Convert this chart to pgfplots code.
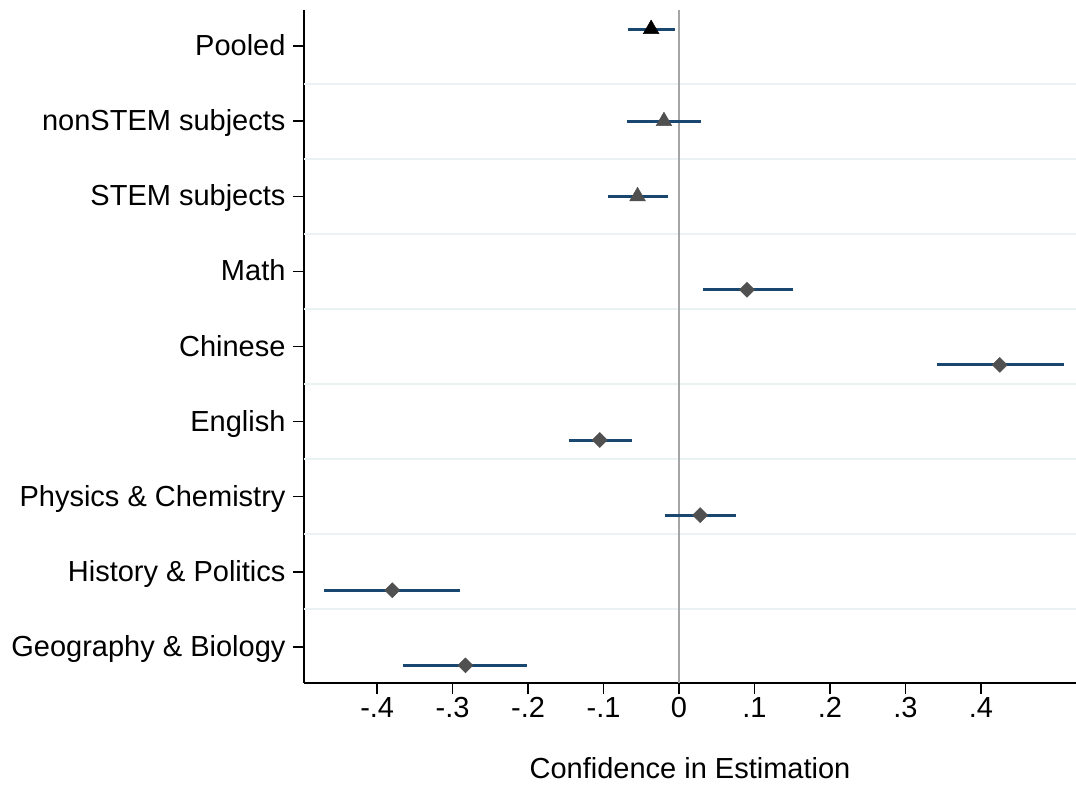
\documentclass[border=0pt]{standalone}
\usepackage{pgfplots}
\pgfplotsset{compat=1.18}
\usepackage{fontspec}
\setmainfont{Liberation Sans}
\definecolor{ciblue}{RGB}{26,71,111}
\definecolor{mkgray}{RGB}{80,80,80}
\definecolor{gridc}{RGB}{234,242,243}
\definecolor{zeroc}{RGB}{165,165,165}
\begin{document}
\begin{tikzpicture}
\path[use as bounding box] (-304pt,-104pt) rectangle (772pt,683pt);
\begin{axis}[
  at={(0pt,0pt)}, anchor=south west,
  width=772pt, height=673pt, scale only axis,
  xmin=-0.497, xmax=0.526, ymin=0.52, ymax=9.48,
  axis x line*=bottom, axis y line*=left,
  axis line style={line width=1.5pt, black},
  tick align=outside, major tick length=11pt,
  every tick/.style={line width=1.5pt, black},
  xtick={-0.4,-0.3,-0.2,-0.1,0,0.1,0.2,0.3,0.4},
  xticklabels={-.4,-.3,-.2,-.1,0,.1,.2,.3,.4},
  ytick={1,2,3,4,5,6,7,8,9},
  yticklabels={Geography \& Biology, History \& Politics, Physics \& Chemistry, English, Chinese, Math, STEM subjects, nonSTEM subjects, Pooled},
  tick label style={font=\fontsize{29}{35}\selectfont},
  yticklabel style={xshift=-4pt, text depth=0pt, yshift=1pt},
  label style={font=\fontsize{29}{35}\selectfont},
  xlabel={Confidence in Estimation},
  xlabel style={yshift=-33pt},
  unbounded coords=jump,
]
% grid lines between categories
\addplot[gridc, line width=2pt] table {
x y
-0.497 1.5
0.526 1.5
nan nan
-0.497 2.5
0.526 2.5
nan nan
-0.497 3.5
0.526 3.5
nan nan
-0.497 4.5
0.526 4.5
nan nan
-0.497 5.5
0.526 5.5
nan nan
-0.497 6.5
0.526 6.5
nan nan
-0.497 7.5
0.526 7.5
nan nan
-0.497 8.5
0.526 8.5
};
% zero line
\addplot[zeroc, line width=2.6pt] coordinates {(0,0.52) (0,9.48)};
% confidence intervals
\addplot[ciblue, line width=3pt] table {
x y
-0.068 9.226
-0.006 9.226
nan nan
-0.069 8
0.029 8
nan nan
-0.094 7
-0.015 7
nan nan
0.032 5.755
0.151 5.755
nan nan
0.342 4.755
0.5095 4.755
nan nan
-0.146 3.755
-0.063 3.755
nan nan
-0.019 2.755
0.0755 2.755
nan nan
-0.471 1.755
-0.290 1.755
nan nan
-0.366 0.755
-0.201 0.755
};
% pooled
\addplot[only marks, mark=triangle*, mark size=9pt, mark options={fill=black, draw=black, line width=0.5pt}] coordinates {(-0.037,9.226)};
% stem / nonstem
\addplot[only marks, mark=triangle*, mark size=9pt, mark options={fill=mkgray, draw=mkgray, line width=0.5pt}] coordinates {(-0.020,8) (-0.055,7)};
% subjects
\addplot[only marks, mark=square*, mark size=5.3pt, mark options={rotate=45, fill=mkgray, draw=mkgray, line width=0.5pt}] table {
x y
0.090 5.755
0.425 4.755
-0.105 3.755
0.028 2.755
-0.380 1.755
-0.283 0.755
};
\end{axis}
\end{tikzpicture}
\end{document}
